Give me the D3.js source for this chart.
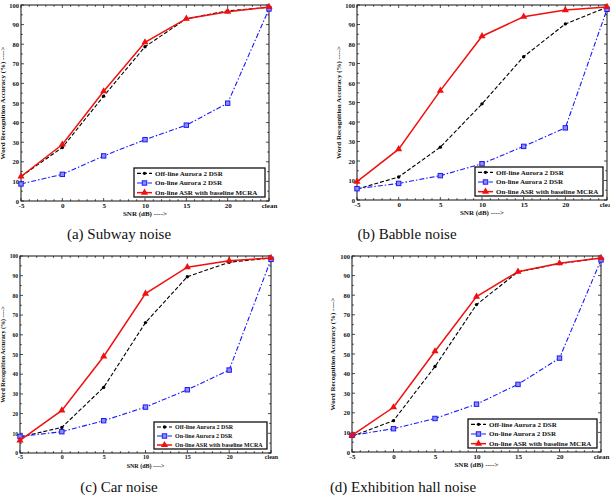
<!DOCTYPE html>
<html>
<head>
<meta charset="utf-8">
<script src="https://cdn.jsdelivr.net/npm/d3@7"></script>
<style>
  body { margin: 0; background: #fff; }
  svg { display: block; }
  text { font-family: "Liberation Serif", "Times New Roman", serif; }
</style>
</head>
<body>
<svg id="chart" width="610" height="502"></svg>
<script>
// x categories and y ticks
const snrLabels = ["-5", "0", "5", "10", "15", "20", "clean"]
const yTickValues = [0, 10, 20, 30, 40, 50, 60, 70, 80, 90, 100]
const seriesNames = ["Off-line Aurora 2 DSR", "On-line Aurora 2 DSR", "On-line ASR with baseline MCRA"]
const captions = ["(a) Subway noise", "(b) Babble noise", "(c) Car noise", "(d) Exhibition hall noise"]

// word recognition accuracy (%)
const subwayOffline = [12.5, 27.3, 53.5, 78.7, 93.0, 97.0, 98.8]
const subwayOnline  = [8.7, 13.6, 23.0, 31.3, 38.7, 49.9, 98.0]
const subwayMcra    = [12.5, 28.8, 56.0, 81.0, 93.0, 96.6, 99.0]

const babbleOffline = [5.6, 11.8, 27.1, 49.3, 73.5, 90.3, 98.8]
const babbleOnline  = [5.8, 8.5, 12.5, 18.6, 27.5, 37.0, 97.8]
const babbleMcra    = [9.4, 26.1, 56.1, 84.0, 94.0, 97.4, 99.0]

const carOffline = [8.1, 13.0, 33.3, 66.2, 89.5, 96.8, 99.0]
const carOnline  = [8.4, 10.8, 16.4, 23.3, 32.1, 42.1, 98.3]
const carMcra    = [6.4, 21.6, 49.0, 80.9, 94.3, 97.6, 99.0]

const exhibOffline = [8.0, 16.0, 43.6, 75.2, 91.9, 96.1, 99.0]
const exhibOnline  = [8.5, 11.9, 17.1, 24.4, 34.5, 47.9, 98.0]
const exhibMcra    = [8.5, 22.8, 51.4, 79.3, 92.0, 96.3, 99.0]

const panelData = [
  [subwayOffline, subwayOnline, subwayMcra],
  [babbleOffline, babbleOnline, babbleMcra],
  [carOffline, carOnline, carMcra],
  [exhibOffline, exhibOnline, exhibMcra]
]

// layout of each sub-figure
let panels = [
  { left: 21, right: 269, top: 5, bottom: 201, ylabX: 5, capX: 119, capY: 239, legW: 131, legH: 29, fs: 7 },
  { left: 357, right: 607, top: 5, bottom: 200, ylabX: 341, capX: 407, capY: 239, legW: 128, legH: 29, fs: 7 },
  { left: 20, right: 271, top: 256, bottom: 453, ylabX: 5, capX: 119, capY: 492, legW: 113, legH: 27, fs: 6 },
  { left: 352, right: 601, top: 256, bottom: 452, ylabX: 335, capX: 403, capY: 492, legW: 129, legH: 29, fs: 7 }
]

let serif = "Liberation Serif, Times New Roman, serif"

let styles = [
  { color: "#000", dash: "4,2", width: 1.1, marker: "circle" },
  { color: "#1a1aff", dash: "5,2,1.5,2", width: 1.1, marker: "square" },
  { color: "#f01010", dash: null, width: 1.5, marker: "triangle" }
]

let svg = d3.select("#chart")

function drawMarker(g, kind, color, x, y) {
  if (kind === "circle") {
    g.append("circle").attr("cx", x).attr("cy", y).attr("r", 1.7).attr("fill", color)
  } else if (kind === "square") {
    g.append("rect").attr("x", x - 2.2).attr("y", y - 2.2).attr("width", 4.4).attr("height", 4.4)
      .attr("fill", "#8f8fe8").attr("stroke", color).attr("stroke-width", 1)
  } else {
    g.append("path").attr("d", d3.symbol(d3.symbolTriangle, 22)()).attr("transform", "translate(" + x + "," + y + ")")
      .attr("fill", color)
  }
}

panels.forEach(function(p, pi) {
  let g = svg.append("g")

  let x = d3.scalePoint().domain(snrLabels).range([p.left, p.right]).padding(0)
  let xMinor = d3.scaleLinear().domain([0, 30]).range([p.left, p.right])
  let y = d3.scaleLinear().domain([0, 100]).range([p.bottom, p.top])

  // minor ticks (inside) on all four sides
  d3.range(0, 31).forEach(function(v) {
    let len = v % 5 === 0 ? 3 : 1.8
    g.append("line").attr("x1", xMinor(v)).attr("x2", xMinor(v)).attr("y1", p.bottom).attr("y2", p.bottom - len)
      .attr("stroke", "#222").attr("stroke-width", 0.8)
    g.append("line").attr("x1", xMinor(v)).attr("x2", xMinor(v)).attr("y1", p.top).attr("y2", p.top + len)
      .attr("stroke", "#222").attr("stroke-width", 0.8)
  })
  d3.range(0, 101, 5).forEach(function(v) {
    let len = v % 10 === 0 ? 3 : 1.8
    g.append("line").attr("x1", p.left).attr("x2", p.left + len).attr("y1", y(v)).attr("y2", y(v))
      .attr("stroke", "#222").attr("stroke-width", 0.8)
    g.append("line").attr("x1", p.right).attr("x2", p.right - len).attr("y1", y(v)).attr("y2", y(v))
      .attr("stroke", "#222").attr("stroke-width", 0.8)
  })

  // x axis labels
  let xAxis = d3.axisBottom(x).tickSize(0).tickPadding(2)
  let xg = g.append("g").attr("transform", "translate(0," + p.bottom + ")").call(xAxis)
  xg.attr("font-family", serif)
  xg.select(".domain").remove()
  xg.selectAll("text").attr("font-size", p.fs).attr("font-weight", "bold").attr("fill", "#111")

  // y axis labels
  let yAxis = d3.axisLeft(y).tickValues(yTickValues).tickSize(0).tickPadding(2)
  let yg = g.append("g").attr("transform", "translate(" + p.left + ",0)").call(yAxis)
  yg.attr("font-family", serif)
  yg.select(".domain").remove()
  yg.selectAll("text").attr("font-size", p.fs - 0.5).attr("font-weight", "bold").attr("fill", "#111")

  // frame
  g.append("rect").attr("x", p.left).attr("y", p.top).attr("width", p.right - p.left).attr("height", p.bottom - p.top)
    .attr("fill", "none").attr("stroke", "#111").attr("stroke-width", 1)

  // series
  panelData[pi].forEach(function(vals, si) {
    let s = styles[si]
    let line = d3.line().x(function(d, i) { return x(snrLabels[i]) }).y(function(d) { return y(d) })
    g.append("path").datum(vals).attr("d", line).attr("fill", "none")
      .attr("stroke", s.color).attr("stroke-width", s.width)
      .attr("stroke-dasharray", s.dash)
    vals.forEach(function(v, i) {
      drawMarker(g, s.marker, s.color, x(snrLabels[i]), y(v))
    })
  })

  // axis titles
  g.append("text").attr("x", (p.left + p.right) / 2).attr("y", p.bottom + 15)
    .attr("text-anchor", "middle").attr("font-family", serif).attr("font-size", p.fs)
    .attr("font-weight", "bold").attr("fill", "#111")
    .text("SNR (dB) ---->")
  g.append("text").attr("transform", "translate(" + p.ylabX + "," + ((p.top + p.bottom) / 2) + ") rotate(-90)")
    .attr("text-anchor", "middle").attr("font-family", serif).attr("font-size", p.fs)
    .attr("font-weight", "bold").attr("fill", "#111")
    .text("Word Recognition Accuracy (%) ---->")

  // legend
  let lx = p.right - 4 - p.legW
  let ly = p.bottom - 4 - p.legH
  g.append("rect").attr("x", lx).attr("y", ly).attr("width", p.legW).attr("height", p.legH)
    .attr("fill", "#fff").attr("stroke", "#111").attr("stroke-width", 1.3)
  seriesNames.forEach(function(name, si) {
    let s = styles[si]
    let rowY = ly + p.legH * (si + 0.5) / 3 + 0.5
    g.append("line").attr("x1", lx + 3).attr("x2", lx + 18).attr("y1", rowY).attr("y2", rowY)
      .attr("stroke", s.color).attr("stroke-width", s.width).attr("stroke-dasharray", s.dash)
    drawMarker(g, s.marker, s.color, lx + 10.5, rowY)
    g.append("text").attr("x", lx + 21).attr("y", rowY).attr("dy", "0.35em")
      .attr("font-family", serif).attr("font-size", p.fs).attr("font-weight", "bold")
      .attr("fill", "#111").text(name)
  })

  // caption
  svg.append("text").attr("x", p.capX).attr("y", p.capY).attr("text-anchor", "middle")
    .attr("font-family", serif).attr("font-size", 15).attr("fill", "#111").text(captions[pi])
})
</script>
</body>
</html>
